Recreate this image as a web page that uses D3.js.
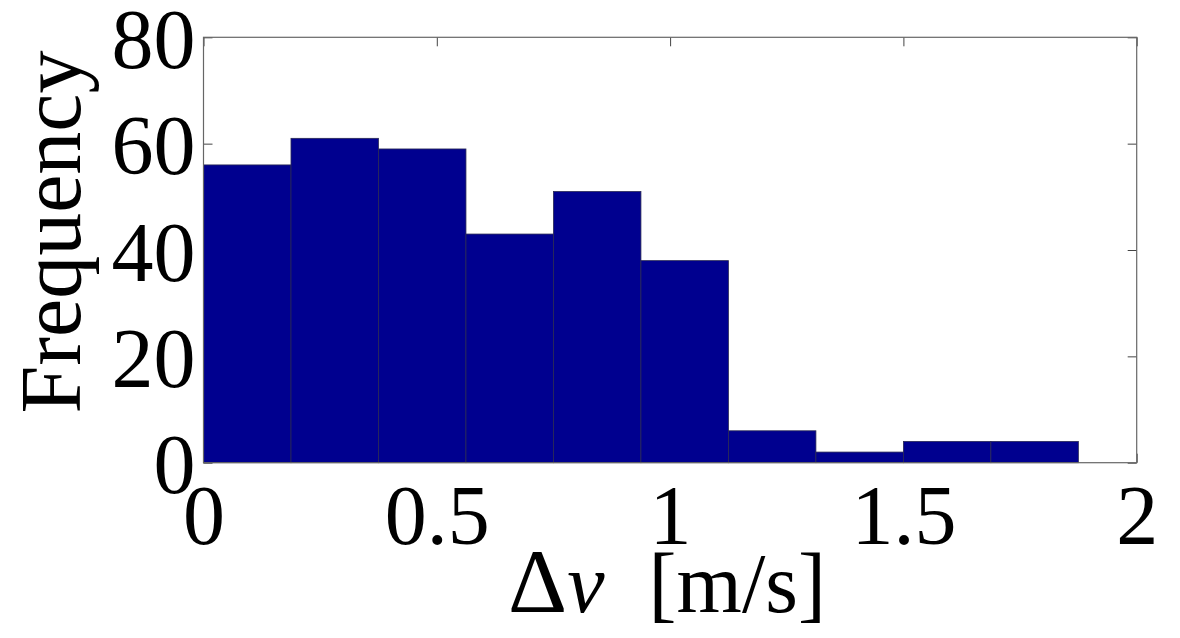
<!DOCTYPE html>
<html>
<head>
<meta charset="utf-8">
<script src="https://cdn.jsdelivr.net/npm/d3@7"></script>
<style>
  html, body { margin: 0; padding: 0; background: #fff; }
  svg { display: block; }
  text { font-family: "Liberation Serif", "Times New Roman", serif; fill: #000; }
</style>
</head>
<body>
<div id="chart"></div>
<script>
/* Histogram of speed differences (MATLAB hist look) */
var binEdges = [0, 0.1875, 0.375, 0.5625, 0.75, 0.9375, 1.125, 1.3125, 1.5, 1.6875, 1.875];
var counts = [56, 61, 59, 43, 51, 38, 6, 2, 4, 4];
var xTicks = [0, 0.5, 1, 1.5, 2];
var xTickLabels = ["0", "0.5", "1", "1.5", "2"];
var yTicks = [0, 20, 40, 60, 80];
var yTickLabels = ["0", "20", "40", "60", "80"];

(function () {
  var W = 1180, H = 638;
  var left = 203.5, right = 1136.7, top = 37.3, bottom = 462.7;
  var fontSize = 84;

  var svg = d3.select("#chart").append("svg").attr("width", W).attr("height", H);

  var x = d3.scaleLinear().domain([0, 2]).range([left, right]);
  var y = d3.scaleLinear().domain([0, 80]).range([bottom, top]);

  // inward ticks on all four sides (drawn first so bars hide the lower ones)
  function styleAxis(g) {
    g.select(".domain").remove();
    g.selectAll(".tick line").attr("stroke", "#444").attr("stroke-width", 1);
    g.selectAll(".tick text").attr("font-size", fontSize).attr("font-family", "Liberation Serif, Times New Roman, serif").attr("fill", "#000");
  }

  svg.append("g").attr("transform", "translate(" + left + ",0)")
    .call(d3.axisLeft(y).tickValues(yTicks).tickSize(-9).tickPadding(8)
      .tickFormat(function (d, i) { return yTickLabels[i]; }))
    .call(styleAxis)
    .selectAll(".tick text").attr("dy", "0.36em");

  svg.append("g").attr("transform", "translate(0," + bottom + ")")
    .call(d3.axisBottom(x).tickValues(xTicks).tickSize(-9).tickPadding(22)
      .tickFormat(function (d, i) { return xTickLabels[i]; }))
    .call(styleAxis);

  svg.append("g").attr("transform", "translate(" + right + ",0)")
    .call(d3.axisRight(y).tickValues(yTicks).tickSize(-9).tickFormat(""))
    .call(styleAxis);

  svg.append("g").attr("transform", "translate(0," + top + ")")
    .call(d3.axisTop(x).tickValues(xTicks).tickSize(-9).tickFormat(""))
    .call(styleAxis);

  // bars
  svg.append("g")
    .selectAll("rect")
    .data(counts)
    .join("rect")
    .attr("x", function (d, i) { return x(binEdges[i]); })
    .attr("width", function (d, i) { return x(binEdges[i + 1]) - x(binEdges[i]); })
    .attr("y", function (d) { return y(d); })
    .attr("height", function (d) { return y(0) - y(d); })
    .attr("fill", "#00008f")
    .attr("stroke", "#2a2a55")
    .attr("stroke-width", 0.8);

  // axes box
  svg.append("rect")
    .attr("x", left).attr("y", top)
    .attr("width", right - left).attr("height", bottom - top)
    .attr("fill", "none").attr("stroke", "#666").attr("stroke-width", 1.2);

  // y label
  svg.append("text")
    .attr("transform", "translate(80,232) rotate(-90)")
    .attr("text-anchor", "middle")
    .attr("font-size", 86)
    .text("Frequency");

  // x label: Δv [m/s]
  var xl = svg.append("text")
    .attr("x", 667)
    .attr("y", 612)
    .attr("text-anchor", "middle")
    .attr("font-size", 84);
  xl.append("tspan").attr("font-size", 92).text("Δ");
  xl.append("tspan").attr("font-style", "italic").text("v");
  xl.append("tspan").attr("dx", 44).text("[m/s]");
})();
</script>
</body>
</html>
